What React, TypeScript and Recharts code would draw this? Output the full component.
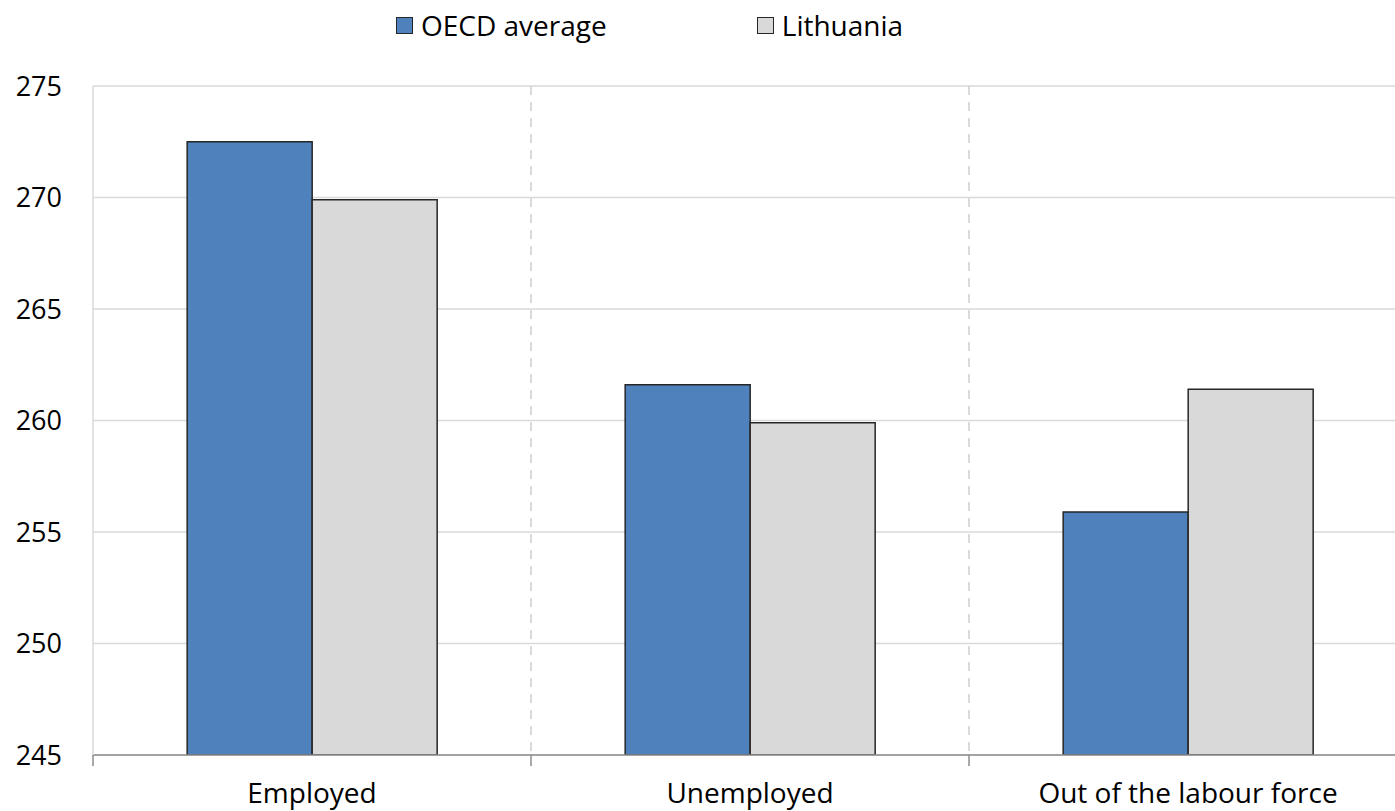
import React from "react";
import {
  BarChart,
  Bar,
  XAxis,
  YAxis,
  CartesianGrid,
  ReferenceLine,
  Legend,
} from "recharts";

const categories = ["Employed", "Unemployed", "Out of the labour force"];
const oecdValues = [272.5, 261.6, 255.9];
const lithuaniaValues = [269.9, 259.9, 261.4];
const yTicks = [245, 250, 255, 260, 265, 270, 275];

const seriesNames = ["OECD average", "Lithuania"];
const seriesColors = ["#4F81BD", "#D9D9D9"];

const FONT = "'Open Sans', sans-serif";

const data = categories.map((cat, i) => ({
  cat,
  oecd: oecdValues[i],
  ltu: lithuaniaValues[i],
}));

function LegendContent() {
  return (
    <div style={{ display: "flex", fontFamily: FONT, fontSize: 28, color: "#000" }}>
      {seriesNames.map((name, i) => (
        <div
          key={name}
          style={{ display: "flex", alignItems: "center", marginRight: i === 0 ? 150 : 0 }}
        >
          <span
            style={{
              display: "inline-block",
              width: 15,
              height: 15,
              background: seriesColors[i],
              border: "1.5px solid #262626",
              marginRight: 8,
            }}
          />
          <span>{name}</span>
        </div>
      ))}
    </div>
  );
}

// dashed separator between categories + small tick below the axis
function boundaryShape(dashed: boolean) {
  return (p: any) => {
    const bottom = Math.max(p.y1, p.y2);
    const top = Math.min(p.y1, p.y2);
    return (
      <g>
        {dashed && (
          <line
            x1={p.x1}
            x2={p.x2}
            y1={top}
            y2={bottom}
            stroke="#d0d0d0"
            strokeWidth={1.5}
            strokeDasharray="9 7"
          />
        )}
        <line x1={p.x1} x2={p.x1} y1={bottom} y2={bottom + 11} stroke="#8c8c8c" strokeWidth={1.5} />
      </g>
    );
  };
}

export default function App() {
  return (
    <div
      style={{
        position: "fixed",
        top: 0,
        left: 0,
        width: 1395,
        height: 811,
        overflow: "hidden",
        background: "#fff",
      }}
    >
      <BarChart
        width={1407}
        height={811}
        data={data}
        margin={{ top: 86, right: 0, bottom: 0, left: 0 }}
        barCategoryGap="21.5%"
        barGap={0}
      >
        <CartesianGrid vertical={false} stroke="#d9d9d9" strokeWidth={1.5} />
        <XAxis
          dataKey="cat"
          tickLine={false}
          axisLine={{ stroke: "#8c8c8c", strokeWidth: 1.5 }}
          tick={{ fontSize: 28, fill: "#000", fontFamily: FONT }}
          tickSize={0}
          tickMargin={28}
          height={56}
          interval={0}
        />
        <YAxis
          domain={[245, 275]}
          ticks={yTicks}
          tickLine={false}
          tickSize={0}
          tickMargin={31}
          axisLine={{ stroke: "#d9d9d9", strokeWidth: 1.5 }}
          tick={{ fontSize: 27, fill: "#000", fontFamily: FONT }}
          width={93}
          allowDataOverflow
        />
        <ReferenceLine
          x={categories[0]}
          position="start"
          ifOverflow="visible"
          shape={boundaryShape(false)}
        />
        {categories.slice(0, 2).map((c) => (
          <ReferenceLine
            key={c}
            x={c}
            position="end"
            ifOverflow="visible"
            shape={boundaryShape(true)}
          />
        ))}
        <Legend
          layout="horizontal"
          verticalAlign="middle"
          align="center"
          content={<LegendContent />}
          wrapperStyle={{ top: 6, left: 396, width: "auto", height: "auto" }}
        />
        <Bar
          dataKey="oecd"
          name={seriesNames[0]}
          fill={seriesColors[0]}
          stroke="#262626"
          strokeWidth={1.5}
          isAnimationActive={false}
        />
        <Bar
          dataKey="ltu"
          name={seriesNames[1]}
          fill={seriesColors[1]}
          stroke="#262626"
          strokeWidth={1.5}
          isAnimationActive={false}
        />
      </BarChart>
    </div>
  );
}
